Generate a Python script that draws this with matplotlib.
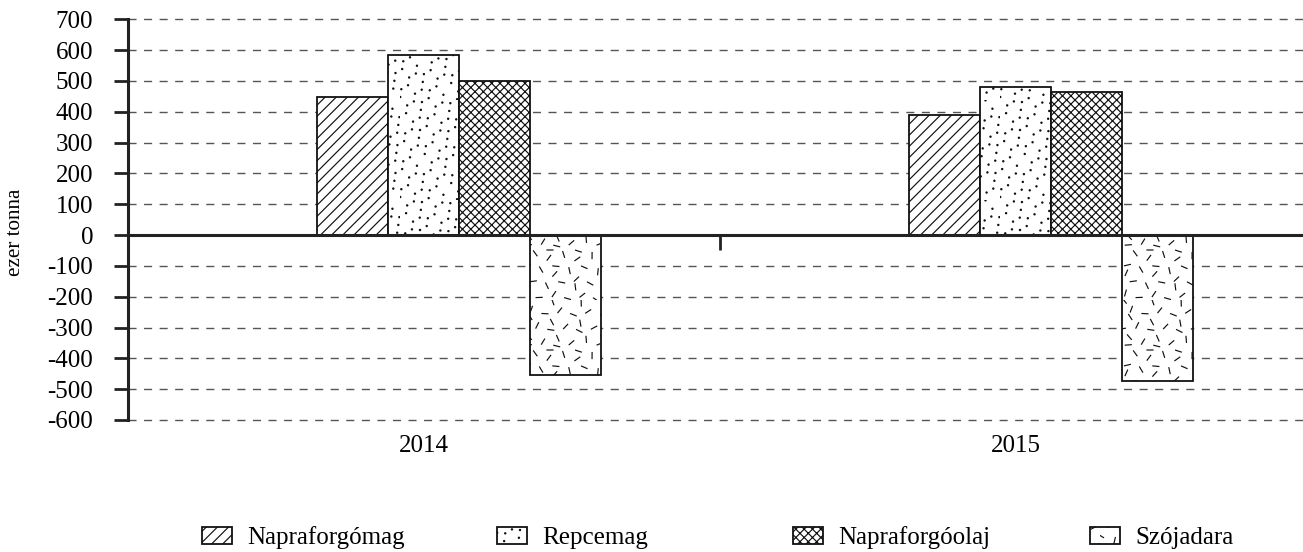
import numpy as np
import matplotlib
matplotlib.use('Agg')
import matplotlib.pyplot as plt
import matplotlib.hatch as mhatch
from matplotlib.path import Path

# ---------------- data ----------------
years = ['2014', '2015']
series = ['Napraforgómag', 'Repcemag', 'Napraforgóolaj', 'Szójadara']
napraforgomag = [447, 391]
repcemag = [584, 480]
napraforgoolaj = [499, 465]
szojadara = [-454, -474]
yticks = list(range(-600, 701, 100))


# ---------------- custom textures ----------------
class ShortDashes(mhatch.HatchPatternBase):
    """'O' -> short dashes scattered at varying angles."""
    def __init__(self, hatch, density):
        self.n = 66 * hatch.count('O')
        self.num_vertices = self.n * 2

    def set_vertices_and_codes(self, vertices, codes):
        i = np.arange(self.n)
        cx = (0.5 + i * 0.7548776662) % 1.0
        cy = (0.5 + i * 0.5698402910) % 1.0
        ang = ((i * 0.41421356) % 1.0) * np.pi
        half = 0.03
        dx = np.cos(ang) * half
        dy = np.sin(ang) * half
        vertices[0::2, 0] = cx - dx
        vertices[0::2, 1] = cy - dy
        vertices[1::2, 0] = cx + dx
        vertices[1::2, 1] = cy + dy
        codes[0::2] = Path.MOVETO
        codes[1::2] = Path.LINETO


class ScatterDots(mhatch.HatchPatternBase):
    """'o' -> small filled dots scattered irregularly."""
    def __init__(self, hatch, density):
        self.n = 110 * hatch.count('o')
        self.circle = Path.unit_circle()
        self.num_vertices = self.n * len(self.circle.vertices)

    def set_vertices_and_codes(self, vertices, codes):
        i = np.arange(self.n)
        cx = (0.2 + i * 0.7548776662) % 1.0
        cy = (0.7 + i * 0.5698402910) % 1.0
        r = 0.006
        cv = self.circle.vertices * r
        cc = self.circle.codes
        m = len(cv)
        for k in range(self.n):
            vertices[k * m:(k + 1) * m] = cv + (cx[k], cy[k])
            codes[k * m:(k + 1) * m] = cc


_new = []
for t in mhatch._hatch_types:
    if t.__name__ == 'LargeCircles':
        _new.append(ShortDashes)
    elif t.__name__ == 'SmallCircles':
        _new.append(ScatterDots)
    else:
        _new.append(t)
mhatch._hatch_types = _new

plt.rcParams['font.family'] = ['Liberation Serif', 'DejaVu Serif']
plt.rcParams['lines.scale_dashes'] = False
plt.rcParams['hatch.linewidth'] = 0.85
plt.rcParams['hatch.color'] = 'black'

FS = 18
W, H = 1303, 552
fig = plt.figure(figsize=(W / 100, H / 100), dpi=100)
ax = fig.add_axes([128 / W, 1 - 420 / H, 1 - 128 / W, (420 - 19.3) / H])

values = [napraforgomag, repcemag, napraforgoolaj, szojadara]
hatches = ['///', 'o', 'xxxx', 'O']
x = np.arange(len(years))
offset, w = 0.319, 0.12
containers = []
for i, (name, vals, hatch) in enumerate(zip(series, values, hatches)):
    c = ax.bar(x + offset + i * w, vals, width=w, align='edge',
               facecolor='white', edgecolor='#111111', linewidth=1.3,
               hatch=hatch, label=name, zorder=3)
    containers.append(c)

ax.set_ylim(-600, 700)
ax.set_xlim(0, (W - 128) / 592)
ax.set_axisbelow(True)

for s in ['top', 'right']:
    ax.spines[s].set_visible(False)
ax.spines['left'].set_linewidth(2.2)
ax.spines['left'].set_color('#222222')
ax.spines['bottom'].set_position(('data', 0))
ax.spines['bottom'].set_linewidth(2.2)
ax.spines['bottom'].set_color('#222222')
ax.spines['bottom'].set_zorder(4)

ax.set_yticks(yticks)
ax.set_yticklabels([str(v) for v in yticks])
ax.tick_params(axis='y', length=10, width=2, direction='out', pad=15,
               labelsize=FS, color='#222222')

ax.set_xticks([1])
ax.set_xticklabels([''])
ax.tick_params(axis='x', which='major', length=11, width=2, direction='out',
               color='#222222')
ax.set_xticks([0.5, 1.5], labels=years, minor=True)
ax.tick_params(axis='x', which='minor', length=0, pad=144, labelsize=FS)

ax.yaxis.grid(True, linestyle=(0, (5.8, 5.4)), color='#555555', linewidth=1.0)
for gl in ax.get_ygridlines():
    gl.set_clip_on(False)

fig.text(16 / W, 1 - 232 / H, 'ezer tonna', rotation=90, ha='center',
         va='center', fontsize=15.2)

em = FS * 100 / 72
for c, name, xp in zip(containers, series, [202, 497, 793, 1090]):
    fig.legend(handles=[c], labels=[name], loc='center left',
               bbox_to_anchor=(xp / W, 1 - 538 / H), frameon=False,
               borderpad=0, borderaxespad=0, handlelength=30 / em,
               handleheight=16 / em, handletextpad=15 / em, fontsize=FS)

fig.savefig('out.png', dpi=100)
